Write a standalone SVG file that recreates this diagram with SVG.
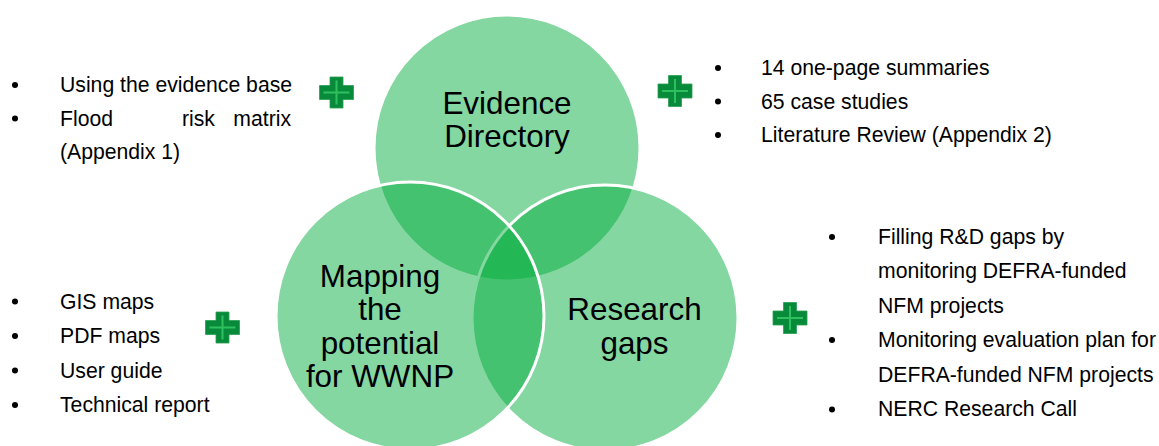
<svg xmlns="http://www.w3.org/2000/svg" xmlns:xlink="http://www.w3.org/1999/xlink" width="1159" height="446" viewBox="0 0 1159 446">
<style>
.c{fill:rgb(0,171,59);fill-opacity:0.48;stroke:#fff;stroke-width:3}
.lbl{font-family:"Liberation Sans",Arial,sans-serif;font-size:31.4px;fill:#000;text-anchor:middle}
.t{font-family:"Liberation Sans",Arial,sans-serif;font-size:21.2px;fill:#000}
.b{fill:#000}
</style>
<defs>
<g id="plus">
<path d="M-6.5,-15.5H6.5V-7H17V7H6.5V15.5H-6.5V7H-17V-7H-6.5Z" fill="#078a3a" stroke="#2a9e52" stroke-width="0.8"/>
<path d="M0,-12V12M-13,0H13" stroke="#30bf5e" stroke-width="2" fill="none"/>
</g>
</defs>
<rect width="1159" height="446" fill="#fff"/>
<g id="venn">
<g id="evidence-directory">
<circle class="c" cx="507" cy="148" r="133"/>
</g>
<g id="research-gaps">
<circle class="c" cx="605" cy="318" r="133"/>
</g>
<g id="mapping">
<circle class="c" cx="410" cy="316" r="134"/>
</g>
</g>
<g id="labels">
<text class="lbl" x="507" y="113.5">Evidence</text>
<text class="lbl" x="507" y="147">Directory</text>
<text class="lbl" x="380" y="287">Mapping</text>
<text class="lbl" x="380" y="320">the</text>
<text class="lbl" x="380" y="353.5">potential</text>
<text class="lbl" x="380" y="386.5">for WWNP</text>
<text class="lbl" x="634.5" y="320">Research</text>
<text class="lbl" x="634.5" y="353.5">gaps</text>
</g>
<g id="connectors"/>
<g id="list-top-left">
<use xlink:href="#plus" href="#plus" x="336.5" y="92.5"/>
<circle class="b" cx="15" cy="85" r="3"/>
<circle class="b" cx="15" cy="118.5" r="3"/>
<text class="t" x="60" y="92">Using the evidence base</text>
<text class="t" x="60" y="125.5">Flood</text>
<text class="t" x="182" y="125.5">risk</text>
<text class="t" x="291" y="125.5" text-anchor="end">matrix</text>
<text class="t" x="60" y="159">(Appendix 1)</text>
</g>
<g id="list-top-right">
<use xlink:href="#plus" href="#plus" x="675" y="91"/>
<circle class="b" cx="718" cy="68" r="3"/>
<circle class="b" cx="718" cy="101.5" r="3"/>
<circle class="b" cx="718" cy="135" r="3"/>
<text class="t" x="761" y="75">14 one-page summaries</text>
<text class="t" x="761" y="108.5">65 case studies</text>
<text class="t" x="761" y="142">Literature Review (Appendix 2)</text>
</g>
<g id="list-bottom-left">
<use xlink:href="#plus" href="#plus" x="222.5" y="327.5"/>
<circle class="b" cx="15" cy="301.5" r="3"/>
<circle class="b" cx="15" cy="336" r="3"/>
<circle class="b" cx="15" cy="370.5" r="3"/>
<circle class="b" cx="15" cy="405" r="3"/>
<text class="t" x="60" y="308.5">GIS maps</text>
<text class="t" x="60" y="343">PDF maps</text>
<text class="t" x="60" y="377.5">User guide</text>
<text class="t" x="60" y="412">Technical report</text>
</g>
<g id="list-bottom-right">
<use xlink:href="#plus" href="#plus" x="790" y="318"/>
<circle class="b" cx="832" cy="237" r="3"/>
<circle class="b" cx="832" cy="340" r="3"/>
<circle class="b" cx="832" cy="409.5" r="3"/>
<text class="t" x="878" y="244">Filling R&amp;D gaps by</text>
<text class="t" x="878" y="278">monitoring DEFRA-funded</text>
<text class="t" x="878" y="312.5">NFM projects</text>
<text class="t" x="878" y="347">Monitoring evaluation plan for</text>
<text class="t" x="878" y="381.5">DEFRA-funded NFM projects</text>
<text class="t" x="878" y="416">NERC Research Call</text>
</g>
</svg>
